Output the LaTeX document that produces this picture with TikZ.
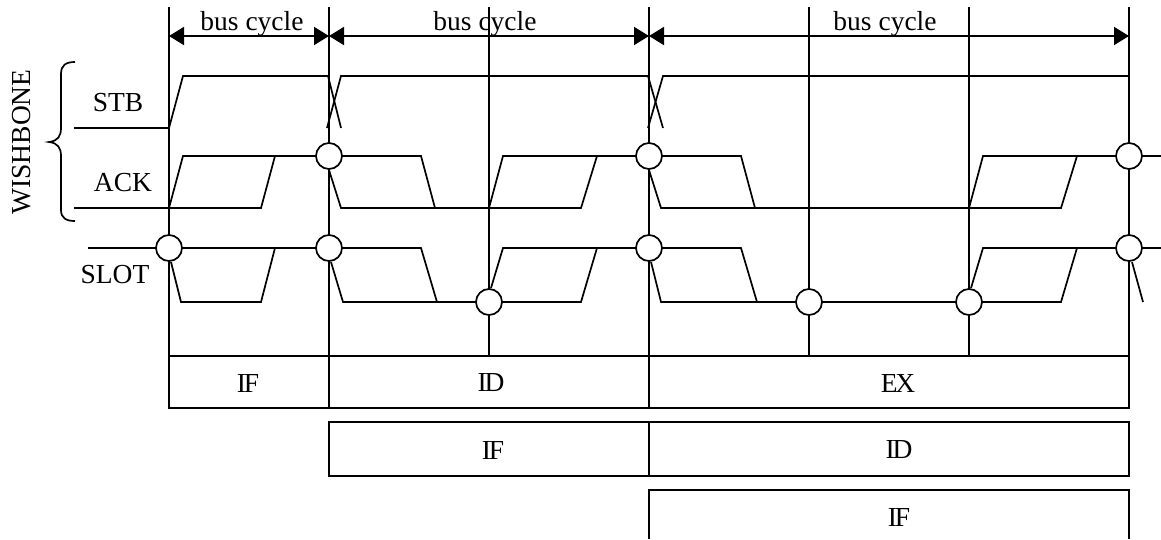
\documentclass[tikz,border=0pt]{standalone}
\usepackage{fontspec}
\setmainfont{Liberation Serif}
\newfontfamily\tightfont[LetterSpace=-8]{Liberation Serif}
\usetikzlibrary{arrows.meta}
\begin{document}
\begin{tikzpicture}[
x=1pt,y=-1pt,
>={Triangle[length=15pt,width=18pt]},
line width=1.7pt,
every node/.style={font=\fontsize{27.5}{27.5}\selectfont},
sync/.style={draw,circle,fill=white,minimum size=26pt,inner sep=0pt},
cell/.style={draw,minimum height=52pt,inner sep=0pt,font=\fontsize{27.5}{27.5}\selectfont\tightfont}
]
\useasboundingbox (0,0) rectangle (1161,539);

\foreach \x in {169,329,489,649,809,969,1129}
	\draw (\x,7) -- (\x,356);

\coordinate (c0) at (169,36);
\coordinate (c1) at (329,36);
\coordinate (c2) at (649,36);
\coordinate (c3) at (1129,36);
\draw[<->] (c0) -- (c1);
\draw[<->] (c1) -- (c2);
\draw[<->] (c2) -- (c3);
\node (bus1) at (252,24) {bus cycle};
\node (bus2) at (485,24) {bus cycle};
\node (bus3) at (885,24) {bus cycle};

\node (wb) at (22,142) [rotate=90] {WISHBONE};
\node (stb) at (118,103) {STB};
\node (ack) at (123,183) {ACK};
\node (slot) at (115,275) {SLOT};

\draw (75,62) .. controls (66,62) and (61,65) .. (61,74) -- (61,128)
	.. controls (61,136) and (58,141) .. (49,142)
	.. controls (58,143) and (61,148) .. (61,156) -- (61,210)
	.. controls (61,218) and (66,221) .. (75,221);

%STB
\draw (74,128) -- (169,128) -- (183,76) -- (328,76) -- (341,128);
\draw (327,128) -- (341,76) -- (648,76) -- (663,128);
\draw (648,128) -- (663,76) -- (1129,76);

%ACK
\draw (74,208) -- (261,208) -- (275,156) -- (329,156);
\draw (169,208) -- (183,156) -- (275,156);
\draw (329,170) -- (341,208) -- (581,208) -- (597,156) -- (649,156);
\draw (329,156) -- (421,156) -- (435,208);
\draw (489,208) -- (503,156) -- (597,156);
\draw (649,170) -- (661,208) -- (1061,208) -- (1077,156) -- (1161,156);
\draw (649,156) -- (741,156) -- (755,208);
\draw (969,208) -- (983,156) -- (1077,156);

%SLOT
\draw (88,248) -- (275,248) -- (261,302) -- (181,302) -- (171,262);
\draw (275,248) -- (329,248);
\draw (331,262) -- (343,302) -- (581,302) -- (597,248) -- (649,248);
\draw (329,248) -- (421,248) -- (437,302);
\draw (491,288) -- (503,248) -- (597,248);
\draw (651,262) -- (661,302) -- (1061,302) -- (1077,248) -- (1161,248);
\draw (649,248) -- (741,248) -- (757,302);
\draw (971,288) -- (983,248) -- (1077,248);
\draw (1132,262) -- (1143,302);

\node[sync] (ack1) at (329,156) {};
\node[sync] (ack2) at (649,156) {};
\node[sync] (ack3) at (1129,156) {};
\node[sync] (slot0) at (169,248) {};
\node[sync] (slot1) at (329,248) {};
\node[sync] (slot2) at (649,248) {};
\node[sync] (slot3) at (1129,248) {};
\node[sync] (low1) at (489,302) {};
\node[sync] (low2) at (809,302) {};
\node[sync] (low3) at (969,302) {};

\node[cell,minimum width=160pt] (if1) at (249,382) {};
\node[cell,minimum width=320pt] (id1) at (489,382) {};
\node[cell,minimum width=480pt] (ex1) at (889,382) {};
\node[cell,minimum width=320pt,minimum height=54pt] (if2) at (489,449) {};
\node[cell,minimum width=480pt,minimum height=54pt] (id2) at (889,449) {};
\draw (649,539) -- (649,490) -- (1129,490) -- (1129,539);

\node[cell,draw=none,minimum width=0pt] (tif1) at (248,383) {IF};
\node[cell,draw=none,minimum width=0pt] (tid1) at (491,383) {ID};
\node[cell,draw=none,minimum width=0pt] (tex1) at (898,383) {EX};
\node[cell,draw=none,minimum width=0pt] (tif2) at (493,450) {IF};
\node[cell,draw=none,minimum width=0pt] (tid2) at (899,450) {ID};
\node[cell,draw=none,minimum width=0pt] (tif3) at (899,517) {IF};

\end{tikzpicture}
\end{document}
